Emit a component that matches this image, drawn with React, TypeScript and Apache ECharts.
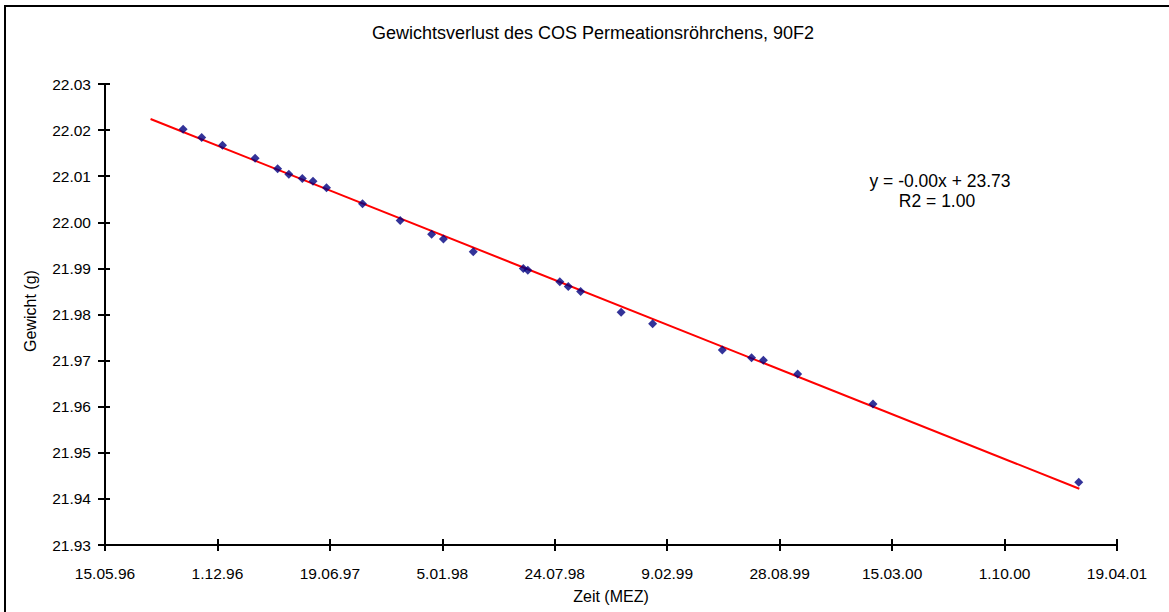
import React, { useEffect, useRef } from "react";
import * as echarts from "echarts";

// Excel serial dates (days) and weights (g)
const dates = [35339, 35372, 35409, 35467, 35507, 35527, 35551, 35570, 35594, 35658, 35725, 35781, 35802, 35855, 35944, 35952, 36009, 36024, 36046, 36118, 36174, 36298, 36350, 36371, 36432, 36566, 36932];
const weights = [22.0202, 22.0184, 22.0167, 22.0139, 22.0116, 22.0104, 22.0095, 22.0089, 22.0075, 22.004, 22.0004, 21.9974, 21.9964, 21.9936, 21.99, 21.9896, 21.9871, 21.9861, 21.985, 21.9805, 21.978, 21.9723, 21.9706, 21.9701, 21.9671, 21.9606, 21.9436];
const trendDates = [35281, 36933];
const trendWeights = [22.0224, 21.9422];

const xMin = 35200;
const xMax = 37000;
const xStep = 200;
const yMin = 21.93;
const yMax = 22.03;
const yStep = 0.01;

const titleText = "Gewichtsverlust des COS Permeationsröhrchens, 90F2";
const xName = "Zeit (MEZ)";
const yName = "Gewicht (g)";
const eqLine1 = "y = -0.00x + 23.73";
const eqLine2 = "R2 = 1.00";

const FONT = "'Liberation Sans', Arial, sans-serif";

function fmtDate(v: number): string {
  const d = new Date(Math.round((v - 25569) * 86400000));
  const day = d.getUTCDate();
  const m = d.getUTCMonth() + 1;
  const y = d.getUTCFullYear() % 100;
  return `${day}.${String(m).padStart(2, "0")}.${String(y).padStart(2, "0")}`;
}

export default function App() {
  const ref = useRef<HTMLDivElement>(null);
  useEffect(() => {
    if (!ref.current) return;
    const chart = echarts.init(ref.current, undefined, { renderer: "svg" });
    const axisLine = { show: true, lineStyle: { color: "#000", width: 2 } };
    chart.setOption({
      animation: false,
      backgroundColor: "#fff",
      grid: { left: 105, right: 52, top: 84, bottom: 67, containLabel: false },
      xAxis: [
        {
          type: "value",
          min: xMin,
          max: xMax,
          interval: xStep,
          axisLine,
          axisTick: { show: true, length: 6, lineStyle: { color: "#000", width: 2 } },
          axisLabel: { color: "#000", fontFamily: FONT, fontSize: 15.5, margin: 20, formatter: (v: number) => fmtDate(v) },
          splitLine: { show: false },
        },
        {
          type: "value",
          position: "bottom",
          min: xMin,
          max: xMax,
          interval: xStep,
          axisLine: { show: false },
          axisTick: { show: true, inside: true, length: 6, lineStyle: { color: "#000", width: 2 } },
          axisLabel: { show: false },
          splitLine: { show: false },
        },
      ],
      yAxis: [
        {
          type: "value",
          min: yMin,
          max: yMax,
          interval: yStep,
          axisLine,
          axisTick: { show: true, length: 7, lineStyle: { color: "#000", width: 2 } },
          axisLabel: { color: "#000", fontFamily: FONT, fontSize: 15.5, margin: 14, formatter: (v: number) => v.toFixed(2) },
          splitLine: { show: false },
        },
        {
          type: "value",
          position: "left",
          min: yMin,
          max: yMax,
          interval: yStep,
          axisLine: { show: false },
          axisTick: { show: true, inside: true, length: 5, lineStyle: { color: "#000", width: 2 } },
          axisLabel: { show: false },
          splitLine: { show: false },
        },
      ],
      series: [
        {
          type: "line",
          data: trendDates.map((d, i) => [d, trendWeights[i]]),
          showSymbol: false,
          symbol: "none",
          lineStyle: { color: "#ff0000", width: 2 },
          z: 2,
        },
        {
          type: "scatter",
          data: dates.map((d, i) => [d, weights[i]]),
          symbol: "diamond",
          symbolSize: 9,
          itemStyle: { color: "#000080" },
          z: 3,
        },
      ],
      graphic: [
        {
          type: "rect",
          silent: true,
          shape: { x: 5, y: 6, width: 1200, height: 700 },
          style: { fill: "transparent", stroke: "#000", lineWidth: 2 },
          z: 100,
        },
        {
          type: "text",
          x: 593,
          y: 33,
          style: { text: titleText, fontFamily: FONT, fontSize: 18, fill: "#000", textAlign: "center", textVerticalAlign: "middle" },
        },
        {
          type: "text",
          x: 611,
          y: 596,
          style: { text: xName, fontFamily: FONT, fontSize: 16, fill: "#000", textAlign: "center", textVerticalAlign: "middle" },
        },
        {
          type: "text",
          x: 30,
          y: 311,
          rotation: Math.PI / 2,
          style: { text: yName, fontFamily: FONT, fontSize: 16, fill: "#000", textAlign: "center", textVerticalAlign: "middle" },
        },
        {
          type: "text",
          x: 940,
          y: 181,
          style: { text: eqLine1, fontFamily: FONT, fontSize: 17.5, fill: "#000", textAlign: "center", textVerticalAlign: "middle" },
        },
        {
          type: "text",
          x: 937,
          y: 201,
          style: { text: eqLine2, fontFamily: FONT, fontSize: 17.5, fill: "#000", textAlign: "center", textVerticalAlign: "middle" },
        },
      ],
    });
    return () => chart.dispose();
  }, []);
  return <div ref={ref} style={{ position: "absolute", left: 0, top: 0, width: 1169, height: 612 }} />;
}
